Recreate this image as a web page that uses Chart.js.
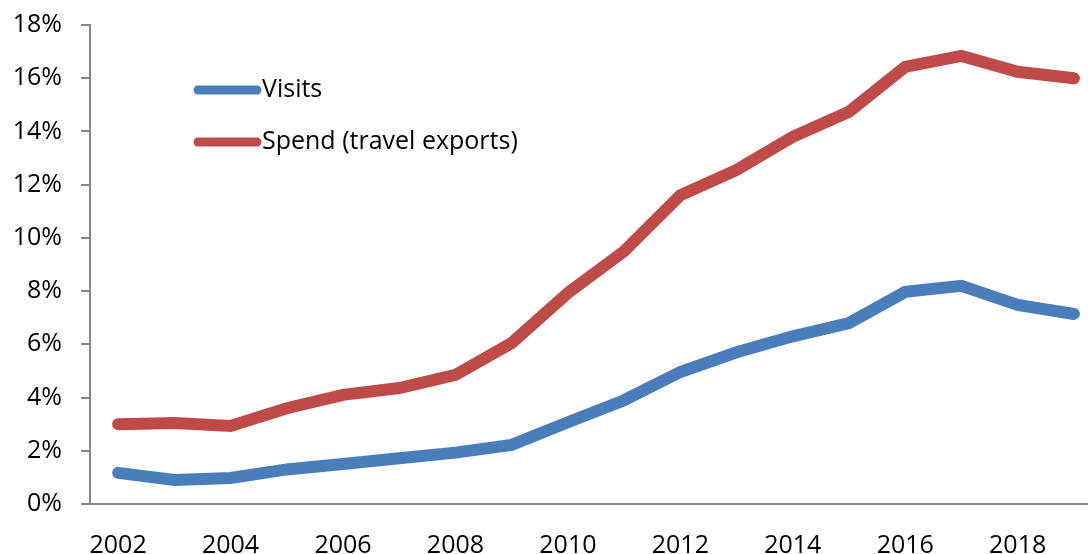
<!DOCTYPE html>
<html>
<head>
<meta charset="utf-8">
<script src="https://cdn.jsdelivr.net/npm/chart.js@4/dist/chart.umd.min.js"></script>
<style>
  html, body { margin: 0; padding: 0; background: #fff; overflow: hidden; }
  #wrap { position: absolute; left: 0; top: 0; width: 1102px; height: 554px; }
</style>
</head>
<body>
<div id="wrap"><canvas id="chart"></canvas></div>
<script>
// Share of inbound travel, by year
const years = ['2002','2003','2004','2005','2006','2007','2008','2009','2010',
               '2011','2012','2013','2014','2015','2016','2017','2018','2019'];
const visits = [1.17, 0.9, 0.98, 1.3, 1.5, 1.72, 1.93, 2.22, 3.07, 3.9, 4.96, 5.7, 6.3, 6.8, 7.97, 8.2, 7.48, 7.14];
const spend  = [3.0, 3.04, 2.93, 3.6, 4.1, 4.36, 4.85, 6.05, 7.93, 9.5, 11.6, 12.55, 13.8, 14.74, 16.43, 16.84, 16.24, 16.0];
const yTicks = [0, 2, 4, 6, 8, 10, 12, 14, 16, 18];

const FONT = '"Open Sans", "Noto Sans", sans-serif';
const AXIS = '#868686';

// Legend drawn inside the plot, top-left
const insideLegend = {
  id: 'insideLegend',
  afterDraw(chart) {
    const ctx = chart.ctx;
    ctx.save();
    ctx.font = '25px ' + FONT;
    ctx.textBaseline = 'middle';
    ctx.lineCap = 'round';
    chart.data.datasets.forEach((ds, i) => {
      const y = 90 + i * 52;
      ctx.strokeStyle = ds.borderColor;
      ctx.lineWidth = 9;
      ctx.beginPath();
      ctx.moveTo(198, y);
      ctx.lineTo(257, y);
      ctx.stroke();
      ctx.fillStyle = '#000';
      ctx.fillText(ds.label, 262, y);
    });
    ctx.restore();
  }
};

new Chart(document.getElementById('chart'), {
  type: 'line',
  data: {
    labels: years,
    datasets: [
      { label: 'Visits', data: visits, borderColor: '#4A7EBB', backgroundColor: '#4A7EBB',
        borderWidth: 12, pointRadius: 0, borderCapStyle: 'round', borderJoinStyle: 'miter', tension: 0 },
      { label: 'Spend (travel exports)', data: spend, borderColor: '#BE4B48', backgroundColor: '#BE4B48',
        borderWidth: 12, pointRadius: 0, borderCapStyle: 'round', borderJoinStyle: 'miter', tension: 0 }
    ]
  },
  options: {
    responsive: true,
    maintainAspectRatio: false,
    animation: false,
    layout: { padding: { top: 25, right: 0, left: 0, bottom: 0 } },
    plugins: { legend: { display: false }, tooltip: { enabled: false } },
    scales: {
      x: {
        offset: true,
        grid: { display: false, drawTicks: false },
        border: { display: true, color: AXIS, width: 2 },
        ticks: {
          autoSkip: false, maxRotation: 0, padding: 27, color: '#000',
          font: { family: FONT, size: 25 },
          callback: (v, i) => (i % 2 === 0 ? years[i] : '')
        },
        afterFit: s => { s.height = 50; }
      },
      y: {
        min: 0, max: 18,
        afterBuildTicks: s => { s.ticks = yTicks.map(v => ({ value: v })); },
        grid: { drawOnChartArea: false, drawTicks: true, tickLength: 9, color: AXIS, lineWidth: 2 },
        border: { display: true, color: AXIS, width: 2 },
        ticks: {
          padding: 19, color: '#000',
          font: { family: FONT, size: 25 },
          callback: v => v + '%'
        },
        afterFit: s => { s.width = 90; s.paddingTop = 0; s.paddingBottom = 0; }
      }
    }
  },
  plugins: [insideLegend]
});
</script>
</body>
</html>
